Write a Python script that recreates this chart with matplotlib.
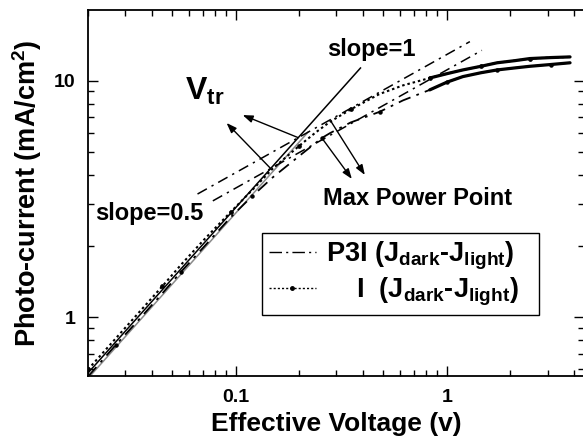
import matplotlib
matplotlib.use("Agg")
import matplotlib.pyplot as plt
from matplotlib.lines import Line2D
from matplotlib.ticker import LogLocator, NullFormatter, FixedLocator, FixedFormatter
import numpy as np

plt.rcParams['font.family'] = ['Liberation Sans', 'DejaVu Sans']
plt.rcParams['font.weight'] = 'bold'
plt.rcParams['mathtext.default'] = 'regular'

# Effective voltage (V) and photocurrent (mA/cm^2)
v_i = [0.02, 0.027, 0.035, 0.045, 0.055, 0.07, 0.095, 0.12, 0.15, 0.2, 0.24,
       0.28, 0.35, 0.48, 0.62, 0.83, 1.0, 1.19, 1.45, 1.73, 2.1, 2.47, 3.1, 3.83]
j_i = [0.60, 0.81, 1.05, 1.35, 1.66, 2.10, 2.79, 3.45, 4.25, 5.30, 6.05,
       6.70, 7.55, 8.78, 9.55, 10.26, 10.70, 11.10, 11.50, 11.90, 12.15, 12.40, 12.52, 12.60]

v_p3i = [0.02, 0.027, 0.035, 0.045, 0.055, 0.07, 0.095, 0.12, 0.15, 0.2, 0.256,
         0.28, 0.35, 0.48, 0.62, 0.83, 1.0, 1.19, 1.45, 1.73, 2.1, 2.47, 3.1, 3.83]
j_p3i = [0.56, 0.76, 0.98, 1.26, 1.55, 1.96, 2.65, 3.25, 3.90, 4.80, 5.72,
         6.00, 6.65, 7.38, 8.25, 9.14, 9.85, 10.40, 10.80, 11.10, 11.32, 11.50, 11.70, 11.90]

# Power-law fits: J = k * V^n
fit_slope1 = {'k': 29.0, 'v': [0.02, 0.39]}
fit_slope1_b = {'k': 27.5, 'v': [0.02, 0.22]}
fit_half_i = {'k': 12.9, 'v': [0.066, 1.285]}
fit_half_p3i = {'k': 11.1, 'v': [0.078, 1.465]}

x_ticks = [0.1, 1]
x_ticklabels = ['0.1', '1']
y_ticks = [1, 10]
y_ticklabels = ['1', '10']

fig = plt.figure(figsize=(5.83, 4.43), dpi=100)
ax = fig.add_axes([88 / 583, 67 / 443, 496 / 583, 366 / 443])
ax.set_xscale('log')
ax.set_yscale('log')
ax.set_xlim(0.02, 4.46)
ax.set_ylim(0.563, 19.9)

# slope = 1 fits
v1 = np.array(fit_slope1['v'])
ax.plot(v1, fit_slope1['k'] * v1, color='black', lw=1.1, zorder=3)
v1b = np.array(fit_slope1_b['v'])
ax.plot(v1b, fit_slope1_b['k'] * v1b, color='#8a8a8a', lw=1.1, zorder=2)

# slope = 0.5 fits
dd = (0, (7, 3.5, 1.5, 3.5))
for f in (fit_half_i, fit_half_p3i):
    vv = np.array(f['v'])
    ax.plot(vv, f['k'] * np.sqrt(vv), color='black', lw=1.1, linestyle=dd, zorder=3)

# measured curves
ax.plot(v_i, j_i, color='black', lw=1.5, linestyle=(0, (1.2, 1.4)),
        marker='o', markersize=2.4, markevery=3, zorder=4)
ax.plot(v_p3i, j_p3i, color='black', lw=1.3, linestyle=dd,
        marker='o', markersize=2.2, markevery=(1, 3), zorder=4)
# dense data at high bias reads as a thick trace
cut = 15
ax.plot(v_i[cut:], j_i[cut:], color='black', lw=2.3, solid_capstyle='round', zorder=4)
ax.plot(v_p3i[cut:], j_p3i[cut:], color='black', lw=2.3, solid_capstyle='round', zorder=4)

# transition voltage = intersection of the two power-law fits
def crossing(k1, kh):
    v = (kh / k1) ** 2
    return v, k1 * v

vt1 = crossing(fit_slope1['k'], fit_half_i['k'])
vt2 = crossing(fit_slope1['k'], fit_half_p3i['k'])
arrow = dict(arrowstyle='-|>,head_length=0.6,head_width=0.22', color='black', lw=1.0,
             shrinkA=0, shrinkB=0)
ax.annotate('', xy=(0.108, 7.15), xytext=vt1, arrowprops=arrow)
ax.annotate('', xy=(0.0906, 6.62), xytext=vt2, arrowprops=arrow)

# maximum power points
ax.annotate('', xy=(0.409, 3.99), xytext=(0.282, 6.75), arrowprops=arrow)
ax.annotate('', xy=(0.355, 3.84), xytext=(0.256, 5.72), arrowprops=arrow)

ax.text(0.0573, 8.28, r'V$_{tr}$', fontsize=23, fontweight='bold', ha='left', va='baseline')
ax.text(0.441, 13.5, 'slope=1', fontsize=17, fontweight='bold', ha='center', va='center')
ax.text(0.0391, 2.73, 'slope=0.5', fontsize=17, fontweight='bold', ha='center', va='center')
ax.text(0.729, 3.16, 'Max Power Point', fontsize=17, fontweight='bold', ha='center', va='center')

# legend
handles = [
    Line2D([], [], color='black', lw=1.0, linestyle=(0, (9, 3, 1.5, 3))),
    Line2D([], [], color='black', lw=1.0, linestyle=(0, (1.5, 1.5)), marker='o', markersize=2.5),
]
labels = [r'P3I (J$_{dark}$-J$_{light}$)', r'    I  (J$_{dark}$-J$_{light}$)']
leg = ax.legend(handles, labels, loc='upper left', bbox_to_anchor=(0.3508, 0.2, 0.558, 0.1907),
                mode='expand', frameon=True, fancybox=False, edgecolor='black', framealpha=1,
                prop={'family': 'Liberation Sans', 'weight': 'bold', 'size': 19.5},
                handlelength=1.75, handletextpad=0.35, borderpad=0.25, labelspacing=0.15,
                numpoints=1, borderaxespad=0)
leg.get_frame().set_linewidth(1.0)

# axes styling
for s in ax.spines.values():
    s.set_linewidth(1.3)
ax.xaxis.set_major_locator(FixedLocator(x_ticks))
ax.xaxis.set_major_formatter(FixedFormatter(x_ticklabels))
ax.yaxis.set_major_locator(FixedLocator(y_ticks))
ax.yaxis.set_major_formatter(FixedFormatter(y_ticklabels))
ax.xaxis.set_minor_locator(LogLocator(base=10, subs=np.arange(2, 10)))
ax.yaxis.set_minor_locator(LogLocator(base=10, subs=np.arange(2, 10)))
ax.xaxis.set_minor_formatter(NullFormatter())
ax.yaxis.set_minor_formatter(NullFormatter())
ax.tick_params(which='both', direction='in', top=True, right=True, width=1.0)
ax.tick_params(which='major', length=7, labelsize=14, pad=9)
ax.tick_params(which='minor', length=4)
for lab in ax.get_xticklabels() + ax.get_yticklabels():
    lab.set_fontweight('bold')

ax.set_xlabel('Effective Voltage (v)', fontsize=19, fontweight='bold', labelpad=5)
ax.set_ylabel(r'Photo-current (mA/cm$^2$)', fontsize=19.5, fontweight='bold', labelpad=7)

fig.savefig('out.png', dpi=100)
